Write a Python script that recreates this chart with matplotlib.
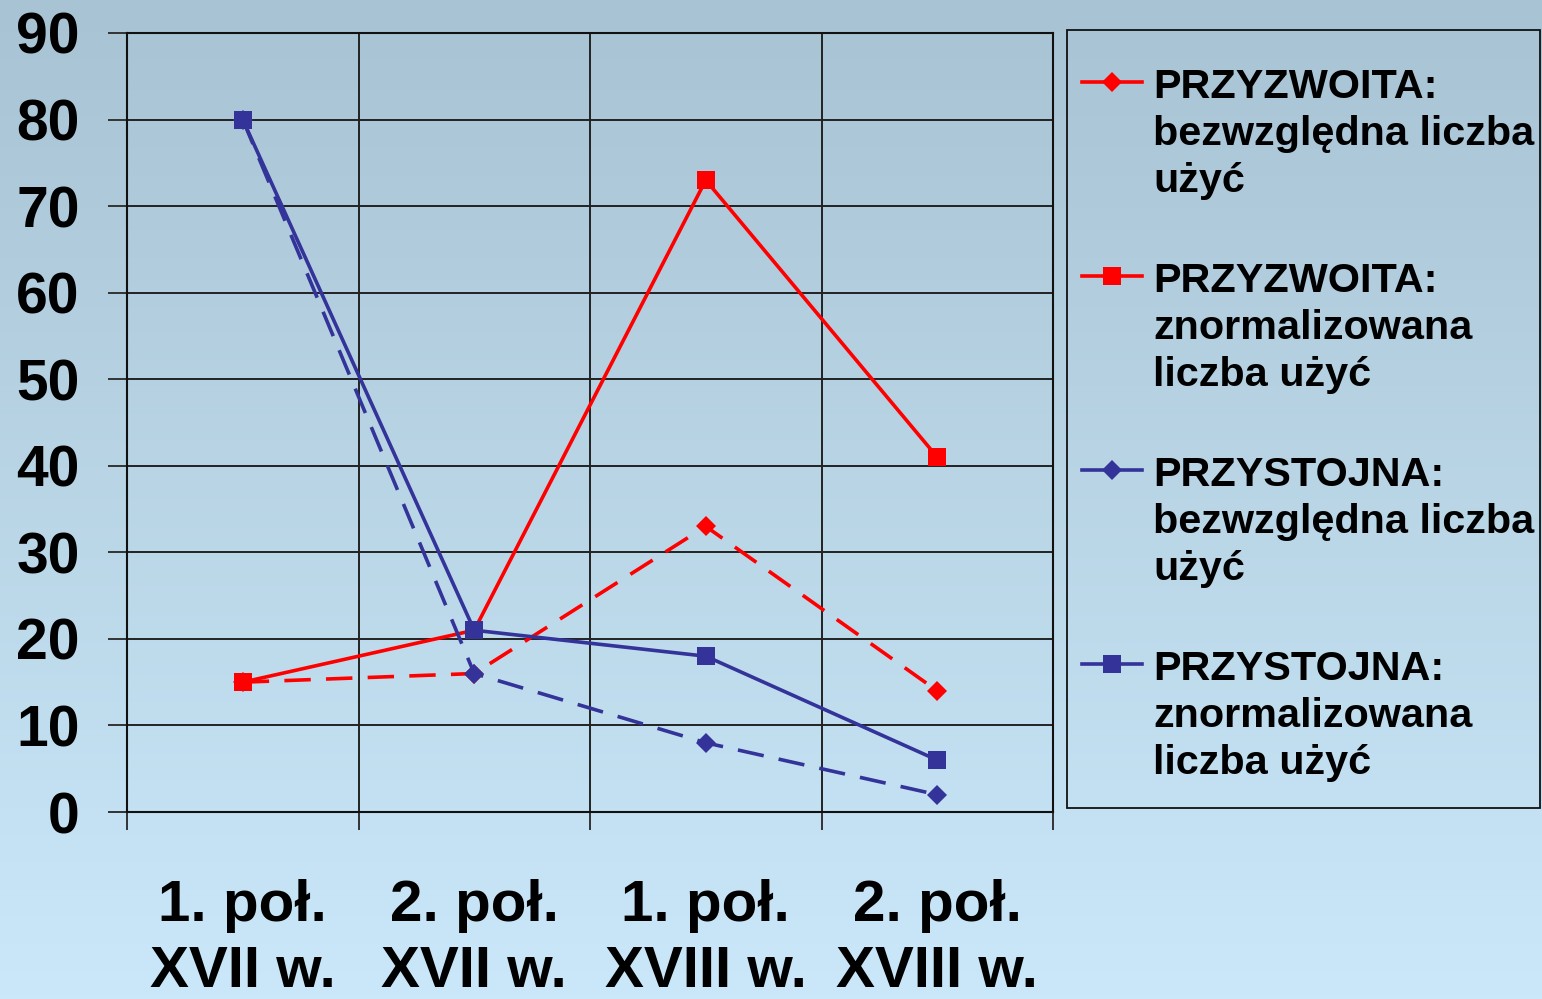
import numpy as np
import matplotlib
matplotlib.use("Agg")
import matplotlib.pyplot as plt
from matplotlib.patches import Rectangle
from matplotlib.lines import Line2D

categories = ["1. poł.\nXVII w.", "2. poł.\nXVII w.", "1. poł.\nXVIII w.", "2. poł.\nXVIII w."]
przyzwoita_bezwzgl = [15, 16, 33, 14]
przyzwoita_znorm = [15, 21, 73, 41]
przystojna_bezwzgl = [80, 16, 8, 2]
przystojna_znorm = [80, 21, 18, 6]
labels = [
    "PRZYZWOITA:\nbezwzględna liczba\nużyć",
    "PRZYZWOITA:\nznormalizowana\nliczba użyć",
    "PRZYSTOJNA:\nbezwzględna liczba\nużyć",
    "PRZYSTOJNA:\nznormalizowana\nliczba użyć",
]
yticks = list(range(0, 91, 10))

plt.rcParams['font.family'] = ['Liberation Sans', 'DejaVu Sans']
plt.rcParams['font.weight'] = 'bold'
plt.rcParams['lines.scale_dashes'] = False

W, H = 1542, 999
fig = plt.figure(figsize=(W / 100, H / 100), dpi=100)

# background gradient
bg = fig.add_axes([0, 0, 1, 1], zorder=-10)
top = np.array([168, 195, 211]) / 255
bot = np.array([202, 232, 250]) / 255
t = np.linspace(0, 1, 256)[:, None]
grad = top[None, :] * (1 - t) + bot[None, :] * t
bg.imshow(grad[:, None, :], aspect='auto', extent=[0, 1, 0, 1])
bg.axis('off')

ax = fig.add_axes([127 / W, 1 - 812 / H, (1053 - 127) / W, (812 - 33) / H])
ax.set_facecolor('none')

x = np.arange(len(categories))
red = '#FF0000'
blue = '#333399'
LW = 2.6
styles = [
    dict(color=red, lw=LW, dashes=(19, 11), marker='D', ms=10, markeredgewidth=0),
    dict(color=red, lw=LW, marker='s', ms=12.5, markeredgewidth=0),
    dict(color=blue, lw=LW, dashes=(19, 11), marker='D', ms=10, markeredgewidth=0),
    dict(color=blue, lw=LW, marker='s', ms=12.5, markeredgewidth=0),
]
series = [przyzwoita_bezwzgl, przyzwoita_znorm, przystojna_bezwzgl, przystojna_znorm]
for vals, st in zip(series, styles):
    ax.plot(x, vals, zorder=3, **st)

ax.set_xlim(-0.5, 3.5)
ax.set_ylim(0, 90)
ax.set_yticks(yticks)
ax.set_yticklabels([str(v) for v in yticks], fontsize=41, fontweight='bold')
ax.set_xticks(np.arange(-0.5, 3.6, 1.0))
ax.set_xticklabels([])
ax.set_xticks(x, minor=True)
ax.set_xticklabels(categories, minor=True, fontsize=42, fontweight='bold', linespacing=1.3)
ax.tick_params(axis='x', which='minor', length=0, pad=48)
ax.tick_params(axis='x', which='major', length=13, width=1.4, color='#333333', direction='out')
ax.tick_params(axis='y', which='major', length=14, width=1.4, color='#333333', direction='out', pad=20)
ax.grid(True, which='major', color='#222222', lw=1.4)
ax.set_axisbelow(True)
for s in ax.spines.values():
    s.set_color('#111111')
    s.set_linewidth(1.5)

# legend box
fig.patches.append(Rectangle((1067 / W, 1 - 808 / H), (1540 - 1067) / W, (808 - 30) / H,
                             transform=fig.transFigure, facecolor='none', edgecolor='#111111',
                             lw=1.3, zorder=5))

def fy(py):
    return 1 - py / H

for i, (lab, st) in enumerate(zip(labels, styles)):
    off = 194 * i
    hy = fy(82 + off)
    line_st = {k: v for k, v in st.items() if k not in ('marker', 'ms', 'markeredgewidth', 'dashes')}
    fig.add_artist(Line2D([1082 / W, 1142 / W], [hy, hy], transform=fig.transFigure, **line_st))
    fig.add_artist(Line2D([1112 / W], [hy], transform=fig.transFigure, color=st['color'],
                          marker=st['marker'], ms=st['ms'], markeredgewidth=0, lw=0))
    for j, ln in enumerate(lab.split("\n")):
        fig.text(1153 / W, fy(98 + 47 * j + off), ln, fontsize=29.8, fontweight='bold',
                 ha='left', va='baseline')

fig.savefig('out.png', dpi=100)
